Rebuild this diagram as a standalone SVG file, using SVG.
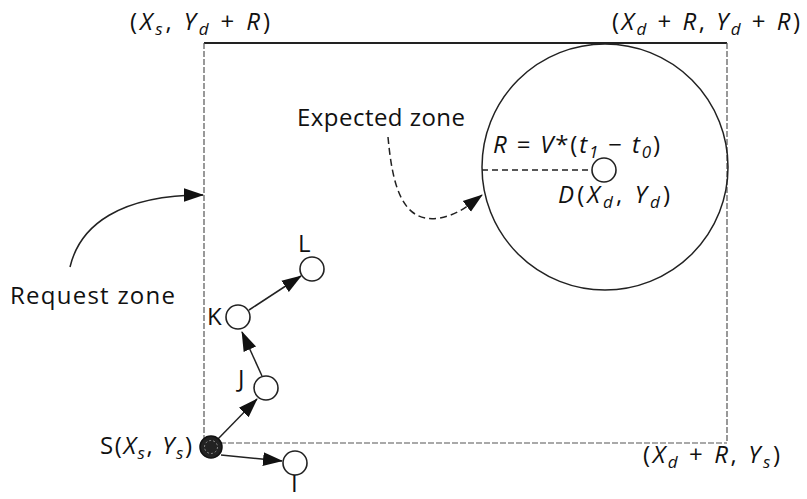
<svg xmlns="http://www.w3.org/2000/svg" width="807" height="499" viewBox="0 0 807 499">
<defs>
<style>
text{font-family:"Open Sans","DejaVu Sans",sans-serif;font-size:24px;fill:#111}
.it{font-style:italic}
.sub{font-size:17px;font-style:italic}
.edge{fill:none;stroke:#222;stroke-width:1.5}
.thin{fill:none;stroke:#555;stroke-width:1.2;stroke-dasharray:6 2}
.node{fill:#fff;stroke:#222;stroke-width:1.6}
</style>
<marker id="ah" viewBox="0 0 10 10" refX="9.5" refY="5" markerWidth="20" markerHeight="20" markerUnits="userSpaceOnUse" orient="auto"><path d="M0,1.6 L10,5 L0,8.4 z" fill="#111"/></marker>
</defs>
<g id="request-zone">
<line x1="204" y1="43" x2="727" y2="43" stroke="#222" stroke-width="2"/>
<line x1="204" y1="43" x2="204" y2="443" class="thin"/>
<line x1="727" y1="43" x2="727" y2="443" class="thin"/>
<line x1="204" y1="443" x2="727" y2="443" class="thin"/>
</g>
<g id="expected-zone">
<circle cx="605" cy="167" r="123" fill="none" stroke="#222" stroke-width="1.5"/>
<line x1="482" y1="170" x2="591" y2="170" stroke="#222" stroke-width="1.4" stroke-dasharray="6 4"/>
</g>
<g id="connectors">
<path d="M70,267 C80,225 120,195 203,195" class="edge" marker-end="url(#ah)"/>
<path d="M388,137 C392,180 400,225 440,218 C460,214 470,204 482,195" class="edge" stroke-dasharray="7 4" marker-end="url(#ah)"/>
<line x1="217" y1="440" x2="257" y2="399" class="edge" marker-end="url(#ah)"/>
<line x1="262" y1="376" x2="242" y2="332" class="edge" marker-end="url(#ah)"/>
<line x1="249" y1="310" x2="301" y2="276" class="edge" marker-end="url(#ah)"/>
<line x1="221" y1="455" x2="282" y2="461" class="edge" marker-end="url(#ah)"/>
</g>
<g id="node-D"><circle cx="604" cy="170" r="12" class="node"/></g>
<g id="node-S"><circle cx="211" cy="447" r="11" fill="#222" stroke="#111" stroke-width="1.5"/><circle cx="211" cy="447" r="6.5" fill="none" stroke="#888" stroke-width="1" stroke-dasharray="2 2"/></g>
<g id="node-J"><circle cx="266" cy="388" r="12" class="node"/></g>
<g id="node-K"><circle cx="238" cy="317" r="12" class="node"/></g>
<g id="node-L"><circle cx="312" cy="269" r="12" class="node"/></g>
<g id="node-I"><circle cx="295" cy="463" r="12" class="node"/></g>
<g id="labels">
<text x="130" y="30" textLength="140" lengthAdjust="spacing">(<tspan class="it">X</tspan><tspan class="sub" dy="5">s</tspan><tspan dy="-5">, </tspan><tspan class="it">Y</tspan><tspan class="sub" dy="5">d</tspan><tspan dy="-5"> + </tspan><tspan class="it">R</tspan>)</text>
<text x="612" y="30" textLength="188" lengthAdjust="spacing">(<tspan class="it">X</tspan><tspan class="sub" dy="5">d</tspan><tspan dy="-5"> + </tspan><tspan class="it">R</tspan>, <tspan class="it">Y</tspan><tspan class="sub" dy="5">d</tspan><tspan dy="-5"> + </tspan><tspan class="it">R</tspan>)</text>
<text x="297" y="126" textLength="168" lengthAdjust="spacing">Expected zone</text>
<text x="493" y="153" textLength="167" lengthAdjust="spacing"><tspan class="it">R</tspan> = <tspan class="it">V</tspan>*(<tspan class="it">t</tspan><tspan class="sub" dy="5">1</tspan><tspan dy="-5"> − </tspan><tspan class="it">t</tspan><tspan class="sub" dy="5">0</tspan><tspan dy="-5">)</tspan></text>
<text x="558" y="203" textLength="112" lengthAdjust="spacing"><tspan class="it">D</tspan>(<tspan class="it">X</tspan><tspan class="sub" dy="5">d</tspan><tspan dy="-5">, </tspan><tspan class="it">Y</tspan><tspan class="sub" dy="5">d</tspan><tspan dy="-5">)</tspan></text>
<text x="10" y="304" textLength="165" lengthAdjust="spacing">Request zone</text>
<text x="298" y="252">L</text>
<text x="207" y="325">K</text>
<text x="238" y="387">J</text>
<text x="100" y="454" textLength="92" lengthAdjust="spacing">S(<tspan class="it">X</tspan><tspan class="sub" dy="5">s</tspan><tspan dy="-5">, </tspan><tspan class="it">Y</tspan><tspan class="sub" dy="5">s</tspan><tspan dy="-5">)</tspan></text>
<text x="643" y="463" textLength="137" lengthAdjust="spacing">(<tspan class="it">X</tspan><tspan class="sub" dy="5">d</tspan><tspan dy="-5"> + </tspan><tspan class="it">R</tspan>, <tspan class="it">Y</tspan><tspan class="sub" dy="5">s</tspan><tspan dy="-5">)</tspan></text>
<text x="291" y="492" font-size="19">I</text>
</g>
</svg>
